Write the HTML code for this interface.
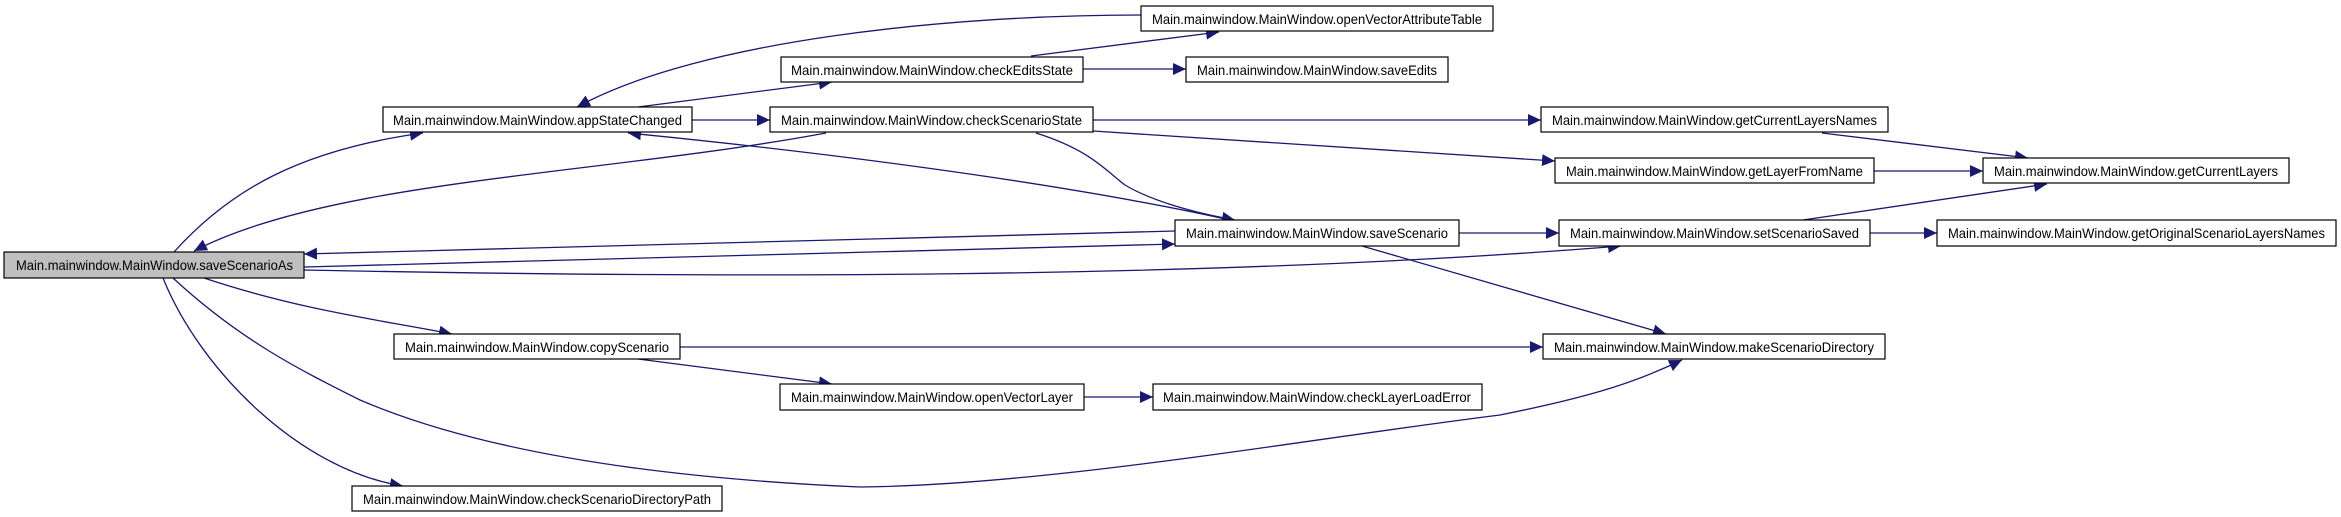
<!DOCTYPE html>
<html><head><meta charset="utf-8"><style>html,body{margin:0;padding:0;background:#fff}svg{display:block}</style></head>
<body>
<svg width="2341" height="517" viewBox="0 0 2341 517" xmlns="http://www.w3.org/2000/svg">
<defs>
<marker id="a" markerUnits="userSpaceOnUse" markerWidth="14" markerHeight="12" refX="13" refY="6" orient="auto">
<path d="M0,0 L13,6 L0,12 Z" fill="#191970"/>
</marker>
</defs>
<g fill="none" stroke="#191970" stroke-width="1.3" marker-end="url(#a)">
<path d="M174,252 C230,190 300,150 423,133"/>
<path d="M826,133 C600,175 330,180 194,251"/>
<path d="M1230,220 C1050,180 800,150 628,133"/>
<path d="M692,120 L770,120"/>
<path d="M638,107 L832,82"/>
<path d="M1141,15 C950,15 700,40 577,107"/>
<path d="M1031,56 L1219,32"/>
<path d="M1083,69 L1186,69"/>
<path d="M1093,120 L1541,120"/>
<path d="M1093,131 L1555,161"/>
<path d="M1036,133 C1090,150 1105,170 1125,185 C1150,200 1190,212 1235,220"/>
<path d="M1175,231 L304,254"/>
<path d="M304,267 L1175,244"/>
<path d="M304,270 C700,278 1200,280 1621,246"/>
<path d="M1459,233 L1559,233"/>
<path d="M1362,246 L1666,334"/>
<path d="M1822,133 L2028,158"/>
<path d="M1874,171 L1983,171"/>
<path d="M1803,220 L2047,184"/>
<path d="M1870,233 L1937,233"/>
<path d="M204,278 C300,310 380,320 452,334"/>
<path d="M680,347 L1543,347"/>
<path d="M638,359 L832,384"/>
<path d="M1084,397 L1153,397"/>
<path d="M173,278 C240,340 300,370 360,400 C500,460 700,480 860,487 C1050,485 1300,440 1500,415 C1600,395 1640,380 1682,360"/>
<path d="M163,278 C200,370 300,470 403,486"/>
</g>
<g stroke="#000" stroke-width="1.2" font-family="Liberation Sans, Arial, sans-serif" font-size="14">
<rect x="4" y="252" width="300" height="26" fill="#bfbfbf"/>
<rect x="383" y="107" width="309" height="25" fill="#fff"/>
<rect x="394" y="334" width="286" height="25" fill="#fff"/>
<rect x="352" y="486" width="370" height="25" fill="#fff"/>
<rect x="781" y="57" width="302" height="25" fill="#fff"/>
<rect x="1141" y="6" width="352" height="25" fill="#fff"/>
<rect x="1186" y="57" width="262" height="25" fill="#fff"/>
<rect x="770" y="107" width="323" height="25" fill="#fff"/>
<rect x="1175" y="220" width="284" height="26" fill="#fff"/>
<rect x="780" y="384" width="304" height="26" fill="#fff"/>
<rect x="1153" y="384" width="329" height="26" fill="#fff"/>
<rect x="1541" y="107" width="347" height="25" fill="#fff"/>
<rect x="1555" y="158" width="319" height="25" fill="#fff"/>
<rect x="1983" y="158" width="306" height="25" fill="#fff"/>
<rect x="1559" y="220" width="311" height="26" fill="#fff"/>
<rect x="1937" y="220" width="399" height="26" fill="#fff"/>
<rect x="1543" y="334" width="342" height="25" fill="#fff"/>
</g>
<g fill="#000" font-family="Liberation Sans, Arial, sans-serif" font-size="14" lengthAdjust="spacingAndGlyphs">
<text x="16" y="270" textLength="277" lengthAdjust="spacingAndGlyphs">Main.mainwindow.MainWindow.saveScenarioAs</text>
<text x="393" y="125" textLength="289" lengthAdjust="spacingAndGlyphs">Main.mainwindow.MainWindow.appStateChanged</text>
<text x="405" y="352" textLength="264" lengthAdjust="spacingAndGlyphs">Main.mainwindow.MainWindow.copyScenario</text>
<text x="363" y="504" textLength="348" lengthAdjust="spacingAndGlyphs">Main.mainwindow.MainWindow.checkScenarioDirectoryPath</text>
<text x="791" y="75" textLength="282" lengthAdjust="spacingAndGlyphs">Main.mainwindow.MainWindow.checkEditsState</text>
<text x="1152" y="24" textLength="330" lengthAdjust="spacingAndGlyphs">Main.mainwindow.MainWindow.openVectorAttributeTable</text>
<text x="1197" y="75" textLength="240" lengthAdjust="spacingAndGlyphs">Main.mainwindow.MainWindow.saveEdits</text>
<text x="781" y="125" textLength="301" lengthAdjust="spacingAndGlyphs">Main.mainwindow.MainWindow.checkScenarioState</text>
<text x="1186" y="238" textLength="262" lengthAdjust="spacingAndGlyphs">Main.mainwindow.MainWindow.saveScenario</text>
<text x="791" y="402" textLength="282" lengthAdjust="spacingAndGlyphs">Main.mainwindow.MainWindow.openVectorLayer</text>
<text x="1163" y="402" textLength="308" lengthAdjust="spacingAndGlyphs">Main.mainwindow.MainWindow.checkLayerLoadError</text>
<text x="1552" y="125" textLength="325" lengthAdjust="spacingAndGlyphs">Main.mainwindow.MainWindow.getCurrentLayersNames</text>
<text x="1566" y="176" textLength="297" lengthAdjust="spacingAndGlyphs">Main.mainwindow.MainWindow.getLayerFromName</text>
<text x="1994" y="176" textLength="284" lengthAdjust="spacingAndGlyphs">Main.mainwindow.MainWindow.getCurrentLayers</text>
<text x="1570" y="238" textLength="289" lengthAdjust="spacingAndGlyphs">Main.mainwindow.MainWindow.setScenarioSaved</text>
<text x="1948" y="238" textLength="377" lengthAdjust="spacingAndGlyphs">Main.mainwindow.MainWindow.getOriginalScenarioLayersNames</text>
<text x="1554" y="352" textLength="320" lengthAdjust="spacingAndGlyphs">Main.mainwindow.MainWindow.makeScenarioDirectory</text>
</g>
</svg>
</body></html>
